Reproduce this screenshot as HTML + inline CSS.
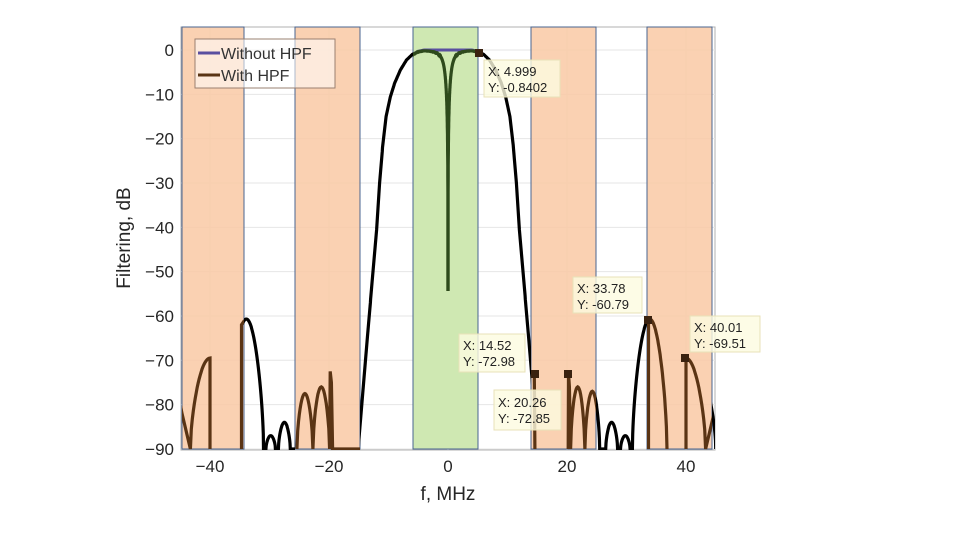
<!DOCTYPE html>
<html><head><meta charset="utf-8"><style>
html,body{margin:0;padding:0;background:#fff;width:960px;height:540px;overflow:hidden}
svg{font-family:"Liberation Sans",sans-serif}
</style></head><body>
<svg id="s" width="960" height="540" viewBox="0 0 960 540">
<defs>
<clipPath id="plot"><rect x="181" y="27" width="534" height="423"/></clipPath>
<clipPath id="bands"><rect x="182" y="27" width="62" height="423"/><rect x="295" y="27" width="65" height="423"/><rect x="531" y="27" width="65" height="423"/><rect x="647" y="27" width="65" height="423"/></clipPath>
<clipPath id="outside"><rect x="244" y="27" width="51" height="423"/><rect x="360" y="27" width="53" height="423"/><rect x="478" y="27" width="53" height="423"/><rect x="596" y="27" width="51" height="423"/><rect x="712" y="27" width="3" height="423"/></clipPath>
<clipPath id="green"><rect x="413" y="27" width="65" height="423"/></clipPath>
</defs>
<rect x="181" y="27" width="534" height="423" fill="#fff" stroke="#b0b0b0"/>
<g id="grid" stroke="#e6e6e6" stroke-width="1"></g>
<g fill="#f9c9a4" fill-opacity="0.85" stroke="#4a6590" stroke-width="1">
<rect x="182" y="27" width="62" height="422"/>
<rect x="295" y="27" width="65" height="422"/>
<rect x="531" y="27" width="65" height="422"/>
<rect x="647" y="27" width="65" height="422"/>
</g>
<rect x="413" y="27" width="65" height="422" fill="#cfe8b2" stroke="#4a6590"/>
<g clip-path="url(#plot)">
<path id="blk" fill="none" stroke="#000" stroke-width="3.2" clip-path="url(#outside)"/>
<path id="brn" fill="none" stroke="#5a3414" stroke-width="3.2" clip-path="url(#bands)"/>
<path id="blu" fill="none" stroke="#5a4fa0" stroke-width="3" clip-path="url(#green)"/>
<path id="grn" fill="none" stroke="#2e4a1c" stroke-width="3.2" clip-path="url(#green)"/>
</g>
<g id="ticks" font-size="17" fill="#262626"></g>
<text x="448" y="500" font-size="19" text-anchor="middle" fill="#262626">f, MHz</text>
<text transform="translate(130,238) rotate(-90)" font-size="19" text-anchor="middle" fill="#262626">Filtering, dB</text>
<rect x="195" y="39" width="140" height="49" fill="#fff" fill-opacity="0.55" stroke="#9a8070"/>
<line x1="198" y1="53" x2="220" y2="53" stroke="#5a4fa0" stroke-width="3"/>
<line x1="198" y1="75" x2="220" y2="75" stroke="#5a3414" stroke-width="3"/>
<text x="221" y="59" font-size="16" fill="#333">Without HPF</text>
<text x="221" y="81" font-size="16" fill="#333">With HPF</text>
<g fill="#fdfbe0" fill-opacity="0.8" stroke="#e8e2b8">
<rect x="484" y="60" width="76" height="37"/>
<rect x="573" y="277" width="69" height="36"/>
<rect x="690" y="316" width="70" height="36"/>
<rect x="459" y="334" width="66" height="38"/>
<rect x="494" y="390" width="67" height="40"/>
</g>
<g font-size="13" fill="#222">
<text x="488" y="76">X: 4.999</text><text x="488" y="92">Y: -0.8402</text>
<text x="577" y="293">X: 33.78</text><text x="577" y="309">Y: -60.79</text>
<text x="694" y="332">X: 40.01</text><text x="694" y="348">Y: -69.51</text>
<text x="463" y="350">X: 14.52</text><text x="463" y="366">Y: -72.98</text>
<text x="498" y="407">X: 20.26</text><text x="498" y="423">Y: -72.85</text>
</g>
<g fill="#3a2210">
<rect x="475" y="49" width="8" height="8"/><rect x="531" y="370" width="8" height="8"/><rect x="564" y="370" width="8" height="8"/><rect x="644" y="316" width="8" height="8"/><rect x="681" y="354" width="8" height="8"/>
</g>
</svg>
<script>
var X=f=>448+5.95*f, Y=d=>50-4.433*d;
var g=document.getElementById('grid'),t=document.getElementById('ticks'),ns='http://www.w3.org/2000/svg';
function el(p,n,a,tx){var e=document.createElementNS(ns,n);for(var k in a)e.setAttribute(k,a[k]);if(tx)e.textContent=tx;p.appendChild(e);}
for(var d=0;d>=-90;d-=10){el(g,'line',{x1:181,x2:715,y1:Y(d),y2:Y(d)});el(t,'text',{x:174,y:Y(d)+6,'text-anchor':'end'},(d<0?'\u2212'+(-d):'0'));}
for(var f=-40;f<=40;f+=20){el(g,'line',{x1:X(f),x2:X(f),y1:27,y2:450});el(t,'text',{x:X(f),y:472,'text-anchor':'middle'},(f<0?'\u2212'+(-f):''+f));}
function lobe(a,b,p,x){return -90+(p+90)*Math.pow(Math.sin(Math.PI*(x-a)/(b-a)),0.6);}
var ML=[[0,0],[4,0],[5,-0.3],[6,-1],[7,-2.3],[8,-4.5],[9,-7.6],[9.7,-10.6],[10.4,-15],[11,-22],[11.5,-30],[12,-40.6],[13.5,-64],[15.1,-90]];
function mainl(a){for(var i=1;i<ML.length;i++)if(a<=ML[i][0]){var p=ML[i-1],q=ML[i];return p[1]+(q[1]-p[1])*(a-p[0])/(q[0]-p[0]);}return -90;}
function B(f){var a=Math.abs(f);
 if(a<15.1)return mainl(a);
 var L=[[23,25.5,-77],[26.5,28.5,-84],[29,30.6,-87],[31,36.8,-60.7],[37,45,-70]];
 for(var i=0;i<L.length;i++)if(a>=L[i][0]&&a<=L[i][1])return lobe(L[i][0],L[i][1],L[i][2],a);return -90;}
function P(fn,a,b,st){var s='';for(var f=a;f<=b+1e-9;f+=st){s+=(s?'L':'M')+X(f).toFixed(1)+','+Y(fn(f)).toFixed(1);}return s;}
document.getElementById('blk').setAttribute('d',P(B,-45,45,0.05));
function pl(pts){return pts.map((p,i)=>(i?'L':'M')+X(p[0]).toFixed(1)+','+Y(p[1]).toFixed(1)).join('');}
function lob(a,b,p,n){var r=[];for(var i=0;i<=n;i++){var x=a+(b-a)*i/n;r.push([x,lobe(a,b,p,x)]);}return r;}
var br='';
br+=pl([[-45,-80],[-44.7,-82],[-44,-86],[-43.3,-90]]);
br+=pl(lob(-43.3,-36.7,-69.5,40).filter(p=>p[0]<=-40).concat([[-40,-90]]));
br+=pl([[-34.7,-90],[-34.7,-62],[-34.2,-61]]);
br+=pl(lob(-25.4,-22.7,-77.5,20));br+=pl(lob(-22.7,-19.9,-76,20));
br+=pl([[-19.9,-90],[-19.8,-72.5],[-19.6,-75],[-19.4,-90],[-14,-90]]);
br+=pl([[14.5,-73],[14.6,-90]]);
br+=pl([[20.2,-90],[20.26,-72.85],[20.4,-76],[20.6,-90]]);
br+=pl(lob(20.6,23,-76,20));br+=pl(lob(23,25.5,-77,20));
br+=pl([[33.7,-90],[33.7,-60.8]]);br+=pl(lob(31,36.8,-60.7,60).filter(p=>p[0]>=33.4));
br+=pl([[40,-90],[40,-69.5]]);br+=pl(lob(36.7,43.3,-69.5,40).filter(p=>p[0]>=40));
br+=pl([[43.3,-90],[44,-86],[44.7,-82],[45,-80]]);
document.getElementById('brn').setAttribute('d',br);
document.getElementById('blu').setAttribute('d',P(B,-7,7,0.05));
function G(f){var w=0.8,v=Math.abs(f);var n=v<1e-6?-54:20*Math.log10(v/Math.sqrt(v*v+w*w));return Math.max(-54,n)+B(f);}
document.getElementById('grn').setAttribute('d',P(G,-7,-0.01,0.01)+pl([[-0.01,-54],[0.01,-54]]).replace(/^M/,'L')+P(G,0.01,7,0.01).replace(/^M/,'L'));
</script>
</body></html>
